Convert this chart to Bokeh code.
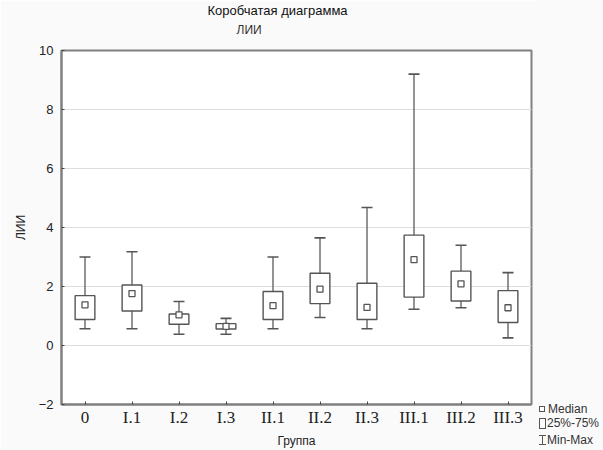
from bokeh.plotting import figure
from bokeh.models import FactorRange, Range1d, Title, FixedTicker, ColumnDataSource, Div
from bokeh.layouts import row
from bokeh.embed import file_html
from bokeh.resources import INLINE

categories = ["0", "I.1", "I.2", "I.3", "II.1", "II.2", "II.3", "III.1", "III.2", "III.3"]
mins = [0.57, 0.57, 0.38, 0.38, 0.57, 0.95, 0.57, 1.23, 1.28, 0.26]
q1 = [0.88, 1.17, 0.72, 0.56, 0.88, 1.42, 0.88, 1.64, 1.51, 0.78]
medians = [1.38, 1.76, 1.04, 0.65, 1.35, 1.91, 1.29, 2.91, 2.09, 1.28]
q3 = [1.69, 2.05, 1.07, 0.74, 1.83, 2.45, 2.11, 3.74, 2.52, 1.86]
maxs = [3.00, 3.18, 1.49, 0.92, 3.00, 3.65, 4.68, 9.20, 3.40, 2.47]
y_ticks = [-2, 0, 2, 4, 6, 8, 10]
legend_labels = ["Median", "25%-75%", "Min-Max"]

BG = "#fafafa"
col = "#555555"

src = ColumnDataSource(dict(cat=categories, mn=mins, q1=q1, med=medians, q3=q3, mx=maxs))

p = figure(width=537, height=450, x_range=FactorRange(*categories, range_padding=0),
           y_range=Range1d(-2, 10), output_backend="svg", toolbar_location=None,
           min_border_left=61, min_border_right=6, min_border_top=50, min_border_bottom=46)
p.x_range.range_padding = 0
p.background_fill_color = "white"
p.border_fill_color = BG
p.outline_line_color = "#808080"
p.outline_line_width = 2

# spacer between plot frame and subtitle
p.add_layout(Title(text=" ", text_font_size="1px", standoff=8), "above")
sub = Title(text="ЛИИ", text_font="Liberation Sans", text_font_size="12px",
            text_font_style="normal", text_color="#333333", standoff=6)
sub.align = "left"
sub.offset = 175
p.add_layout(sub, "above")
p.title.text = "Коробчатая диаграмма"
p.title.align = "left"
p.title.offset = 146
p.title.text_font = "Liberation Sans"
p.title.text_font_size = "13px"
p.title.text_font_style = "normal"
p.title.text_color = "#111111"
p.title.standoff = 0

# whiskers
p.segment(x0="cat", y0="q3", x1="cat", y1="mx", source=src, line_color="#666666", line_width=1.4)
p.segment(x0="cat", y0="mn", x1="cat", y1="q1", source=src, line_color="#666666", line_width=1.4)
p.scatter(x="cat", y="mx", source=src, marker="dash", size=11, line_color=col, line_width=1.6)
p.scatter(x="cat", y="mn", source=src, marker="dash", size=11, line_color=col, line_width=1.6)
p.vbar(x="cat", width=0.42, bottom="q1", top="q3", source=src, fill_color="white",
       line_color=col, line_width=1.4)
p.scatter(x="cat", y="med", source=src, marker="square", size=6, fill_color="white",
          line_color=col, line_width=1.3)

# axes
p.xgrid.grid_line_color = None
p.ygrid.grid_line_color = "#dddddd"
p.ygrid.grid_line_width = 1
p.yaxis.ticker = FixedTicker(ticks=y_ticks)
p.yaxis.axis_line_color = "#808080"
p.yaxis.axis_line_width = 2
p.yaxis.major_tick_in = 3
p.yaxis.major_tick_out = 0
p.yaxis.major_tick_line_color = "#444444"
p.yaxis.minor_tick_line_color = None
p.yaxis.major_label_standoff = 8
p.yaxis.major_label_text_font = "Liberation Sans"
p.yaxis.major_label_text_font_size = "13px"
p.yaxis.major_label_text_color = "#222222"
p.yaxis.axis_label = "ЛИИ"
p.yaxis.axis_label_text_font = "Liberation Sans"
p.yaxis.axis_label_text_font_size = "12px"
p.yaxis.axis_label_text_font_style = "normal"
p.yaxis.axis_label_text_color = "#222222"
p.yaxis.axis_label_standoff = 8

p.xaxis.axis_line_color = "#808080"
p.xaxis.axis_line_width = 2
p.xaxis.major_tick_in = 3
p.xaxis.major_tick_out = 0
p.xaxis.major_tick_line_color = "#444444"
p.xaxis.major_label_standoff = 3
p.xaxis.major_label_text_font = "Liberation Serif"
p.xaxis.major_label_text_font_size = "17px"
p.xaxis.major_label_text_color = "#222222"
p.xaxis.axis_label = "Группа"
p.xaxis.axis_label_text_font = "Liberation Sans"
p.xaxis.axis_label_text_font_size = "12px"
p.xaxis.axis_label_text_font_style = "normal"
p.xaxis.axis_label_text_color = "#222222"
p.xaxis.axis_label_standoff = 4

# legend strip (HTML) to the right of the plot
ico = "position:absolute;box-sizing:border-box;"
legend_html = (
    f'<div style="position:relative;width:66px;height:450px;background:{BG};'
    f'font-family:\'Liberation Sans\',sans-serif;font-size:12px;line-height:14px;color:#333;">'
    f'<div style="{ico}left:2px;top:406px;width:6px;height:6px;border:1px solid {col};background:#fff;"></div>'
    f'<div style="{ico}left:2px;top:418px;width:7px;height:11px;border:1px solid {col};background:#fff;"></div>'
    f'<div style="{ico}left:5px;top:435px;width:1px;height:10px;background:{col};"></div>'
    f'<div style="{ico}left:2px;top:435px;width:7px;height:1px;background:{col};"></div>'
    f'<div style="{ico}left:2px;top:444px;width:7px;height:1px;background:{col};"></div>'
    f'<div style="position:absolute;left:11px;top:402px;white-space:nowrap;">{legend_labels[0]}</div>'
    f'<div style="position:absolute;left:10px;top:416px;white-space:nowrap;">{legend_labels[1]}</div>'
    f'<div style="position:absolute;left:10px;top:433px;white-space:nowrap;">{legend_labels[2]}</div>'
    '</div>'
)
leg = Div(text=legend_html, width=66, height=450, margin=(0, 0, 0, 0))

layout = row(p, leg)
open("out.html", "w").write(file_html(layout, INLINE))
